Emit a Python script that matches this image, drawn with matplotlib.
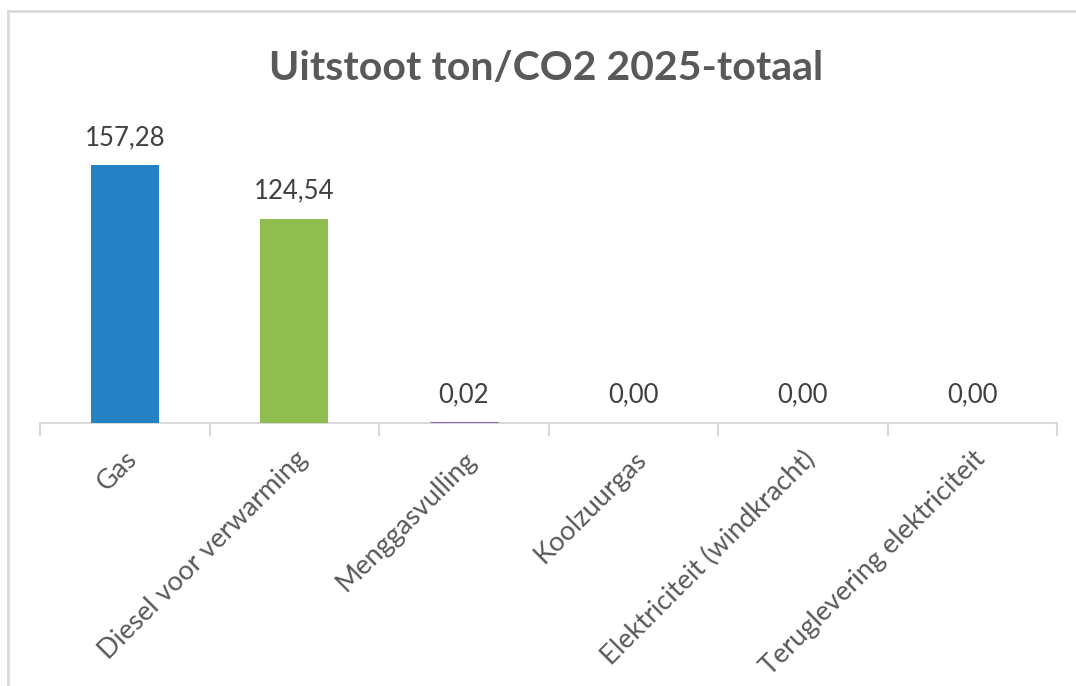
import matplotlib.pyplot as plt
from matplotlib.lines import Line2D

# data
categorieen = ["Gas", "Diesel voor verwarming", "Menggasvulling", "Koolzuurgas",
               "Elektriciteit (windkracht)", "Teruglevering elektriciteit"]
waarden = [157.28, 124.54, 0.02, 0.00, 0.00, 0.00]
kleuren = ["#2381C4", "#8FBD4F", "#8E64AE", "#A5A5A5", "#FFC000", "#5B9BD5"]

plt.rcParams['font.family'] = ['Lato', 'DejaVu Sans']

fig = plt.figure(figsize=(10.76, 6.86), dpi=100)
ax = fig.add_axes([40 / 1076, 263 / 686, 1017 / 1076, 295 / 686])

x = range(len(categorieen))
bars = ax.bar(x, waarden, width=0.4, color=kleuren, edgecolor=kleuren, linewidth=0, zorder=3)
# kleine waarde zichtbaar maken zoals in excel (alleen de rand tekenen)
bars[2].set_linewidth(2.2)

for i, v in enumerate(waarden):
    ax.annotate(f"{v:.2f}".replace(".", ","), (i, v), xytext=(0, 11),
                textcoords="offset points", ha="center", va="bottom",
                fontsize=18.5, color="#404040")

ax.set_xlim(-0.5, len(categorieen) - 0.5)
ax.set_ylim(0, 180)

for s in ["top", "right", "left"]:
    ax.spines[s].set_visible(False)
ax.spines["bottom"].set_color("#D9D9D9")
ax.spines["bottom"].set_linewidth(1.5)
ax.set_yticks([])

ax.set_xticks(list(x))
ax.set_xticklabels(categorieen, rotation=45, ha="right", rotation_mode="anchor",
                   fontsize=19.5, color="#595959")
ax.tick_params(axis="x", which="major", length=0, pad=17)
ax.set_xticks([i - 0.5 for i in range(len(categorieen) + 1)], minor=True)
ax.tick_params(axis="x", which="minor", length=9, width=1.5, color="#D9D9D9")

fig.text(0.508, 1 - 68 / 686, "Uitstoot ton/CO2 2025-totaal", ha="center", va="center",
         fontsize=29.5, fontweight="bold", color="#595959")

# rand van het grafiekvlak
fig.add_artist(Line2D([7.5 / 1076, 1], [1 - 11 / 686, 1 - 11 / 686], color="#D9D9D9", linewidth=2))
fig.add_artist(Line2D([7.5 / 1076, 7.5 / 1076], [0, 1 - 11 / 686], color="#D9D9D9", linewidth=2))

fig.savefig("out.png", dpi=100)
